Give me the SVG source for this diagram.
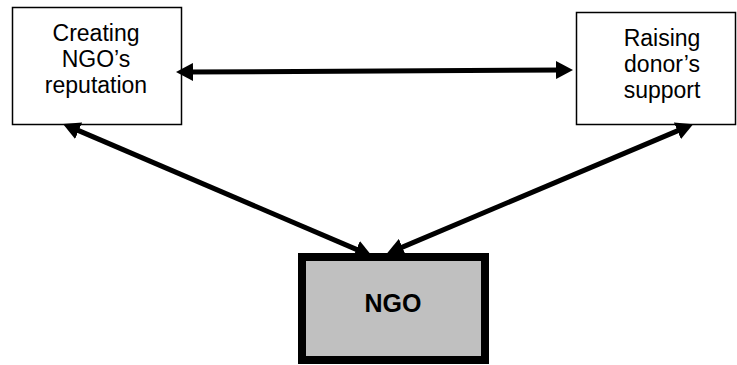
<svg xmlns="http://www.w3.org/2000/svg" width="737" height="365" viewBox="0 0 737 365">
<style>
.box{fill:#fff;stroke:#000;stroke-width:1.5}
.lbl{font-family:"Liberation Sans",Arial,sans-serif;font-size:23px;fill:#000;text-anchor:middle}
.conn{stroke:#000;stroke-width:5;fill:none;marker-start:url(#ah);marker-end:url(#ah)}
</style>
<defs>
<marker id="ah" markerUnits="userSpaceOnUse" markerWidth="18" markerHeight="18" refX="7" refY="9" orient="auto-start-reverse">
<path d="M0,0 L17,9 L0,18 z" fill="#000"/>
</marker>
</defs>
<rect width="737" height="365" fill="#fff"/>
<g id="reputation">
<rect class="box" x="12.5" y="7.5" width="169" height="117"/>
<text class="lbl" x="96" y="41">Creating</text>
<text class="lbl" x="96" y="67">NGO’s</text>
<text class="lbl" x="96" y="93">reputation</text>
</g>
<g id="donor">
<rect class="box" x="576.5" y="12.5" width="159" height="112"/>
<text class="lbl" x="662" y="46">Raising</text>
<text class="lbl" x="662" y="72">donor’s</text>
<text class="lbl" x="662" y="98">support</text>
</g>
<g id="ngo">
<rect x="302" y="257" width="183" height="103" fill="#c0c0c0" stroke="#000" stroke-width="8"/>
<text x="393" y="312" font-family="Liberation Sans,Arial,sans-serif" font-size="25" font-weight="bold" text-anchor="middle">NGO</text>
</g>
<g id="connectors">
<line class="conn" x1="186" y1="72" x2="563" y2="70"/>
<line class="conn" x1="72.2" y1="127.9" x2="362.8" y2="252.1"/>
<line class="conn" x1="683.9" y1="128.1" x2="395.9" y2="249.9"/>
</g>
</svg>
